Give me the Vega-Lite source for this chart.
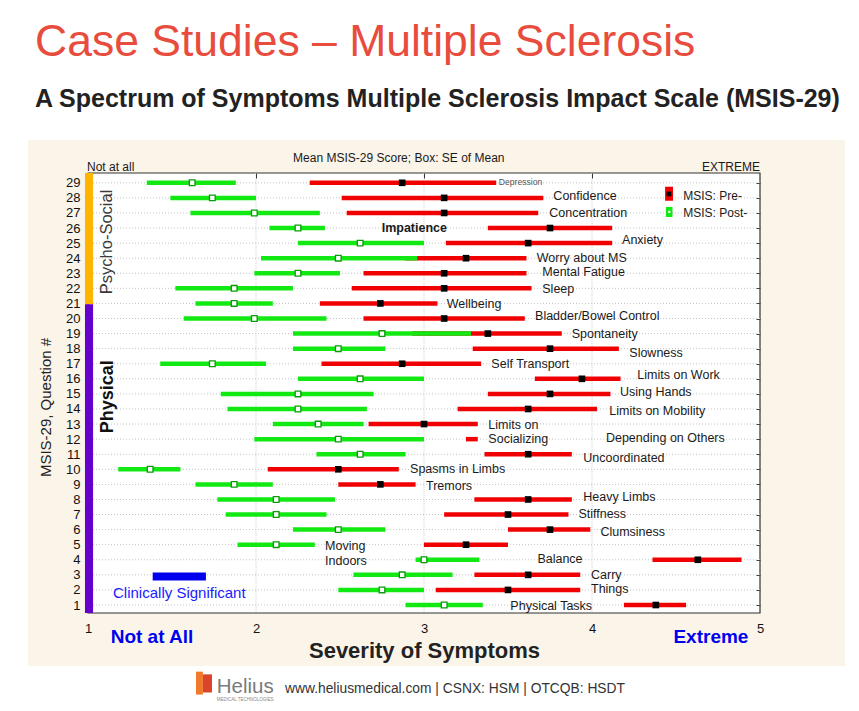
{
  "$schema": "https://vega.github.io/schema/vega-lite/v6.json",
  "width": 672,
  "height": 440,
  "autosize": {"type": "none"},
  "padding": {"left": 88, "top": 173, "right": 99, "bottom": 98},
  "background": "white",
  "config": {"font": "Liberation Sans", "view": {"stroke": null}},
  "title": {
    "text": "Case Studies – Multiple Sclerosis",
    "subtitle": "A Spectrum of Symptoms Multiple Sclerosis Impact Scale (MSIS-29)",
    "anchor": "start",
    "frame": "group",
    "dx": -53,
    "offset": 27,
    "fontSize": 44.5,
    "fontWeight": "normal",
    "color": "#E84C3D",
    "subtitleFontSize": 25,
    "subtitleFontWeight": "bold",
    "subtitleColor": "#222222",
    "subtitlePadding": 22
  },
  "resolve": {"axis": {"x": "independent", "y": "independent"}},
  "datasets": {
    "msis": [
      {"q": 29, "postLo": 1.35, "postMean": 1.62, "postHi": 1.88, "preLo": 2.32, "preMean": 2.87, "preHi": 3.43},
      {"q": 28, "postLo": 1.49, "postMean": 1.74, "postHi": 2.00, "preLo": 2.51, "preMean": 3.12, "preHi": 3.71},
      {"q": 27, "postLo": 1.61, "postMean": 1.99, "postHi": 2.38, "preLo": 2.54, "preMean": 3.12, "preHi": 3.68},
      {"q": 26, "postLo": 2.08, "postMean": 2.25, "postHi": 2.41, "preLo": 3.38, "preMean": 3.75, "preHi": 4.12},
      {"q": 25, "postLo": 2.25, "postMean": 2.62, "postHi": 3.00, "preLo": 3.13, "preMean": 3.62, "preHi": 4.12},
      {"q": 24, "postLo": 2.03, "postMean": 2.49, "postHi": 2.96, "preLo": 2.89, "preMean": 3.25, "preHi": 3.61},
      {"q": 23, "postLo": 1.99, "postMean": 2.25, "postHi": 2.50, "preLo": 2.64, "preMean": 3.12, "preHi": 3.61},
      {"q": 22, "postLo": 1.52, "postMean": 1.87, "postHi": 2.22, "preLo": 2.57, "preMean": 3.12, "preHi": 3.64},
      {"q": 21, "postLo": 1.64, "postMean": 1.87, "postHi": 2.10, "preLo": 2.38, "preMean": 2.74, "preHi": 3.08},
      {"q": 20, "postLo": 1.57, "postMean": 1.99, "postHi": 2.42, "preLo": 2.64, "preMean": 3.12, "preHi": 3.60},
      {"q": 19, "postLo": 2.22, "postMean": 2.75, "postHi": 3.28, "preLo": 2.93, "preMean": 3.38, "preHi": 3.82},
      {"q": 18, "postLo": 2.22, "postMean": 2.49, "postHi": 2.77, "preLo": 3.29, "preMean": 3.75, "preHi": 4.16},
      {"q": 17, "postLo": 1.43, "postMean": 1.74, "postHi": 2.06, "preLo": 2.39, "preMean": 2.87, "preHi": 3.34},
      {"q": 16, "postLo": 2.25, "postMean": 2.62, "postHi": 3.00, "preLo": 3.66, "preMean": 3.94, "preHi": 4.17},
      {"q": 15, "postLo": 1.79, "postMean": 2.25, "postHi": 2.70, "preLo": 3.38, "preMean": 3.75, "preHi": 4.11},
      {"q": 14, "postLo": 1.83, "postMean": 2.25, "postHi": 2.66, "preLo": 3.20, "preMean": 3.62, "preHi": 4.03},
      {"q": 13, "postLo": 2.10, "postMean": 2.37, "postHi": 2.64, "preLo": 2.67, "preMean": 3.00, "preHi": 3.32},
      {"q": 12, "postLo": 1.99, "postMean": 2.49, "postHi": 3.00, "preLo": 3.25, "preMean": null, "preHi": 3.32},
      {"q": 11, "postLo": 2.36, "postMean": 2.62, "postHi": 2.89, "preLo": 3.36, "preMean": 3.62, "preHi": 3.88},
      {"q": 10, "postLo": 1.18, "postMean": 1.37, "postHi": 1.55, "preLo": 2.07, "preMean": 2.49, "preHi": 2.85},
      {"q": 9, "postLo": 1.64, "postMean": 1.87, "postHi": 2.10, "preLo": 2.49, "preMean": 2.74, "preHi": 2.95},
      {"q": 8, "postLo": 1.77, "postMean": 2.12, "postHi": 2.47, "preLo": 3.30, "preMean": 3.62, "preHi": 3.88},
      {"q": 7, "postLo": 1.82, "postMean": 2.12, "postHi": 2.42, "preLo": 3.12, "preMean": 3.50, "preHi": 3.86},
      {"q": 6, "postLo": 2.22, "postMean": 2.49, "postHi": 2.77, "preLo": 3.50, "preMean": 3.75, "preHi": 3.99},
      {"q": 5, "postLo": 1.89, "postMean": 2.12, "postHi": 2.35, "preLo": 3.00, "preMean": 3.25, "preHi": 3.50},
      {"q": 4, "postLo": 2.95, "postMean": 3.00, "postHi": 3.33, "preLo": 4.36, "preMean": 4.63, "preHi": 4.89},
      {"q": 3, "postLo": 2.58, "postMean": 2.87, "postHi": 3.17, "preLo": 3.30, "preMean": 3.62, "preHi": 3.93},
      {"q": 2, "postLo": 2.49, "postMean": 2.75, "postHi": 3.00, "preLo": 3.07, "preMean": 3.50, "preHi": 3.93},
      {"q": 1, "postLo": 2.89, "postMean": 3.12, "postHi": 3.35, "preLo": 4.19, "preMean": 4.38, "preHi": 4.56}
    ],
    "labels": [
      {"text": "Confidence", "x": 3.770, "q": 28.13},
      {"text": "Concentration", "x": 3.746, "q": 27.0},
      {"text": "Anxiety", "x": 4.179, "q": 25.18},
      {"text": "Worry about MS", "x": 3.671, "q": 24.04},
      {"text": "Mental Fatigue", "x": 3.704, "q": 23.09},
      {"text": "Sleep", "x": 3.704, "q": 21.96},
      {"text": "Wellbeing", "x": 3.135, "q": 20.97},
      {"text": "Bladder/Bowel Control", "x": 3.661, "q": 20.17},
      {"text": "Spontaneity", "x": 3.879, "q": 18.98},
      {"text": "Slowness", "x": 4.222, "q": 17.69},
      {"text": "Self Transport", "x": 3.401, "q": 16.99},
      {"text": "Limits on Work", "x": 4.270, "q": 16.23},
      {"text": "Using Hands", "x": 4.167, "q": 15.12},
      {"text": "Limits on Mobility", "x": 4.103, "q": 13.88},
      {"text": "Limits on", "x": 3.383, "q": 12.92},
      {"text": "Socializing", "x": 3.383, "q": 11.99},
      {"text": "Depending on Others", "x": 4.083, "q": 12.09},
      {"text": "Uncoordinated", "x": 3.948, "q": 10.76},
      {"text": "Spasms in Limbs", "x": 2.917, "q": 10.03},
      {"text": "Tremors", "x": 3.012, "q": 8.91},
      {"text": "Heavy Limbs", "x": 3.948, "q": 8.15},
      {"text": "Stiffness", "x": 3.919, "q": 7.02},
      {"text": "Clumsiness", "x": 4.05, "q": 5.86},
      {"text": "Moving", "x": 2.411, "q": 4.9},
      {"text": "Indoors", "x": 2.411, "q": 3.94},
      {"text": "Balance", "x": 3.675, "q": 4.04},
      {"text": "Carry", "x": 3.994, "q": 3.01},
      {"text": "Things", "x": 3.994, "q": 2.05},
      {"text": "Physical Tasks", "x": 3.514, "q": 0.96}
    ]
  },
  "layer": [
    {
      "data": {"values": [{"x": 0.643, "x2": 5.506, "q": -3.05, "q2": 31.83}]},
      "mark": {"type": "rect", "fill": "#FBF4E9", "clip": false},
      "encoding": {
        "x": {"field": "x", "type": "quantitative", "scale": {"domain": [1, 5], "nice": false, "zero": false}, "axis": null},
        "x2": {"field": "x2"},
        "y": {"field": "q", "type": "quantitative", "scale": {"domain": [0.47, 29.65], "nice": false, "zero": false}, "axis": null},
        "y2": {"field": "q2"}
      }
    },
    {
      "data": {"values": [{"x": 1, "x2": 5, "q": 0.47, "q2": 29.65}]},
      "mark": {"type": "rect", "fill": "white", "stroke": "#333333", "strokeWidth": 1.2, "clip": false},
      "encoding": {
        "x": {"field": "x", "type": "quantitative", "scale": {"domain": [1, 5], "nice": false, "zero": false},
          "axis": {"orient": "bottom", "values": [1, 2, 3, 4, 5], "ticks": false, "tickSize": 0, "domain": false, "grid": false,
            "labelFontSize": 13, "labelColor": "#111111", "labelPadding": 9, "labelFlush": false,
            "title": "Severity of Symptoms", "titleFontSize": 22, "titleFontWeight": "bold", "titleColor": "#222222", "titlePadding": 5, "zindex": 1}},
        "x2": {"field": "x2"},
        "y": {"field": "q", "type": "quantitative", "scale": {"domain": [0.47, 29.65], "nice": false, "zero": false},
          "axis": {"orient": "left", "values": [1, 2, 3, 4, 5, 6, 7, 8, 9, 10, 11, 12, 13, 14, 15, 16, 17, 18, 19, 20, 21, 22, 23, 24, 25, 26, 27, 28, 29],
            "ticks": false, "tickSize": 0, "domain": false, "grid": false, "labelFontSize": 13, "labelColor": "#111111", "labelPadding": 8,
            "labelOverlap": false, "labelFlush": false,
            "title": "MSIS-29, Question #", "titleFontSize": 15, "titleFontWeight": "normal", "titleColor": "#222222", "titlePadding": 12, "titleY": 234, "zindex": 1}},
        "y2": {"field": "q2"}
      }
    },
    {
      "data": {"name": "msis"},
      "mark": {"type": "rule", "stroke": "#C4C4C4", "strokeWidth": 1, "strokeDash": [1, 2]},
      "encoding": {
        "y": {"field": "q", "type": "quantitative", "scale": {"domain": [0.47, 29.65], "nice": false, "zero": false},
          "axis": {"orient": "right", "values": [1, 2, 3, 4, 5, 6, 7, 8, 9, 10, 11, 12, 13, 14, 15, 16, 17, 18, 19, 20, 21, 22, 23, 24, 25, 26, 27, 28, 29],
            "labels": false, "domain": false, "grid": false, "ticks": true, "tickSize": -4, "tickColor": "#444444", "title": null, "zindex": 1}}
      }
    },
    {
      "data": {"values": [{"v": 2}, {"v": 3}, {"v": 4}]},
      "mark": {"type": "rule", "stroke": "#D0D0D0", "strokeWidth": 1, "strokeDash": [1, 1]},
      "encoding": {
        "x": {"field": "v", "type": "quantitative", "scale": {"domain": [1, 5], "nice": false, "zero": false},
          "axis": {"orient": "top", "values": [2, 3, 4], "labels": false, "domain": false, "grid": false, "ticks": true, "tickSize": -5, "tickColor": "#333333", "title": null, "zindex": 1}}
      }
    },
    {
      "data": {"values": [{"grp": "Psycho-Social", "x": 0.982, "x2": 1.03, "lo": 20.95, "hi": 29.65}]},
      "mark": {"type": "rect", "fill": "#FFB400", "clip": false},
      "encoding": {
        "x": {"field": "x", "type": "quantitative", "scale": {"domain": [1, 5], "nice": false, "zero": false}, "axis": null},
        "x2": {"field": "x2"},
        "y": {"field": "lo", "type": "quantitative", "scale": {"domain": [0.47, 29.65], "nice": false, "zero": false}, "axis": null},
        "y2": {"field": "hi"}
      }
    },
    {
      "data": {"values": [{"grp": "Physical", "x": 0.982, "x2": 1.03, "lo": 0.47, "hi": 20.95}]},
      "mark": {"type": "rect", "fill": "#6600CC", "clip": false},
      "encoding": {
        "x": {"field": "x", "type": "quantitative", "scale": {"domain": [1, 5], "nice": false, "zero": false}, "axis": null},
        "x2": {"field": "x2"},
        "y": {"field": "lo", "type": "quantitative", "scale": {"domain": [0.47, 29.65], "nice": false, "zero": false}, "axis": null},
        "y2": {"field": "hi"}
      }
    },
    {
      "data": {"name": "msis"},
      "mark": {"type": "rule", "stroke": "#F00000", "strokeWidth": 4.5},
      "encoding": {
        "x": {"field": "preLo", "type": "quantitative", "scale": {"domain": [1, 5], "nice": false, "zero": false}, "axis": null},
        "x2": {"field": "preHi"},
        "y": {"field": "q", "type": "quantitative", "scale": {"domain": [0.47, 29.65], "nice": false, "zero": false}, "axis": null}
      }
    },
    {
      "data": {"name": "msis"},
      "mark": {"type": "rule", "stroke": "#12E812", "strokeWidth": 4.5},
      "encoding": {
        "x": {"field": "postLo", "type": "quantitative", "scale": {"domain": [1, 5], "nice": false, "zero": false}, "axis": null},
        "x2": {"field": "postHi"},
        "y": {"field": "q", "type": "quantitative", "scale": {"domain": [0.47, 29.65], "nice": false, "zero": false}, "axis": null}
      }
    },
    {
      "data": {"name": "msis"},
      "mark": {"type": "square", "filled": true, "fill": "black", "size": 44, "opacity": 1},
      "encoding": {
        "x": {"field": "preMean", "type": "quantitative", "scale": {"domain": [1, 5], "nice": false, "zero": false}, "axis": null},
        "y": {"field": "q", "type": "quantitative", "scale": {"domain": [0.47, 29.65], "nice": false, "zero": false}, "axis": null}
      }
    },
    {
      "data": {"name": "msis"},
      "mark": {"type": "square", "filled": true, "fill": "white", "stroke": "#0A9A0A", "strokeWidth": 1.3, "size": 32, "opacity": 1},
      "encoding": {
        "x": {"field": "postMean", "type": "quantitative", "scale": {"domain": [1, 5], "nice": false, "zero": false}, "axis": null},
        "y": {"field": "q", "type": "quantitative", "scale": {"domain": [0.47, 29.65], "nice": false, "zero": false}, "axis": null}
      }
    },
    {
      "data": {"name": "labels"},
      "mark": {"type": "text", "align": "left", "baseline": "middle", "fontSize": 12.5, "color": "#1A1A1A", "clip": false},
      "encoding": {
        "x": {"field": "x", "type": "quantitative", "scale": {"domain": [1, 5], "nice": false, "zero": false}, "axis": null},
        "y": {"field": "q", "type": "quantitative", "scale": {"domain": [0.47, 29.65], "nice": false, "zero": false}, "axis": null},
        "text": {"field": "text"}
      }
    },
    {
      "data": {"values": [{"text": "Impatience", "x": 2.748, "q": 26.01}]},
      "mark": {"type": "text", "align": "left", "baseline": "middle", "fontSize": 12.5, "fontWeight": "bold", "color": "#1A1A1A"},
      "encoding": {
        "x": {"field": "x", "type": "quantitative", "scale": {"domain": [1, 5], "nice": false, "zero": false}, "axis": null},
        "y": {"field": "q", "type": "quantitative", "scale": {"domain": [0.47, 29.65], "nice": false, "zero": false}, "axis": null},
        "text": {"field": "text"}
      }
    },
    {
      "data": {"values": [{"text": "Depression", "x": 3.445, "q": 29.05}]},
      "mark": {"type": "text", "align": "left", "baseline": "middle", "fontSize": 8.6, "color": "#555555"},
      "encoding": {
        "x": {"field": "x", "type": "quantitative", "scale": {"domain": [1, 5], "nice": false, "zero": false}, "axis": null},
        "y": {"field": "q", "type": "quantitative", "scale": {"domain": [0.47, 29.65], "nice": false, "zero": false}, "axis": null},
        "text": {"field": "text"}
      }
    },
    {
      "data": {"values": [{"s": "MSIS: Pre-", "x": 4.435, "x2": 4.482, "lo": 27.81, "hi": 28.74}]},
      "mark": {"type": "rect", "fill": "#F00000"},
      "encoding": {
        "x": {"field": "x", "type": "quantitative", "scale": {"domain": [1, 5], "nice": false, "zero": false}, "axis": null},
        "x2": {"field": "x2"},
        "y": {"field": "lo", "type": "quantitative", "scale": {"domain": [0.47, 29.65], "nice": false, "zero": false}, "axis": null},
        "y2": {"field": "hi"}
      }
    },
    {
      "data": {"values": [{"s": "MSIS: Post-", "x": 4.44, "x2": 4.479, "lo": 26.73, "hi": 27.40}]},
      "mark": {"type": "rect", "fill": "#12E812"},
      "encoding": {
        "x": {"field": "x", "type": "quantitative", "scale": {"domain": [1, 5], "nice": false, "zero": false}, "axis": null},
        "x2": {"field": "x2"},
        "y": {"field": "lo", "type": "quantitative", "scale": {"domain": [0.47, 29.65], "nice": false, "zero": false}, "axis": null},
        "y2": {"field": "hi"}
      }
    },
    {
      "data": {"values": [{"s": "MSIS: Pre-", "x": 4.458, "q": 28.26}]},
      "mark": {"type": "square", "filled": true, "fill": "black", "size": 22, "opacity": 1},
      "encoding": {
        "x": {"field": "x", "type": "quantitative", "scale": {"domain": [1, 5], "nice": false, "zero": false}, "axis": null},
        "y": {"field": "q", "type": "quantitative", "scale": {"domain": [0.47, 29.65], "nice": false, "zero": false}, "axis": null}
      }
    },
    {
      "data": {"values": [{"s": "MSIS: Post-", "x": 4.46, "q": 27.07}]},
      "mark": {"type": "square", "filled": true, "fill": "white", "size": 5, "opacity": 1},
      "encoding": {
        "x": {"field": "x", "type": "quantitative", "scale": {"domain": [1, 5], "nice": false, "zero": false}, "axis": null},
        "y": {"field": "q", "type": "quantitative", "scale": {"domain": [0.47, 29.65], "nice": false, "zero": false}, "axis": null}
      }
    },
    {
      "data": {"values": [
        {"s": "MSIS: Pre-", "tx": 4.543, "tq": 28.13},
        {"s": "MSIS: Post-", "tx": 4.543, "tq": 27.03}
      ]},
      "mark": {"type": "text", "align": "left", "baseline": "middle", "fontSize": 12, "color": "#1A1A1A"},
      "encoding": {
        "x": {"field": "tx", "type": "quantitative", "scale": {"domain": [1, 5], "nice": false, "zero": false}, "axis": null},
        "y": {"field": "tq", "type": "quantitative", "scale": {"domain": [0.47, 29.65], "nice": false, "zero": false}, "axis": null},
        "text": {"field": "s"}
      }
    },
    {
      "data": {"values": [{"x": 1.385, "x2": 1.702, "lo": 2.63, "hi": 3.16}]},
      "mark": {"type": "rect", "fill": "#0000EE"},
      "encoding": {
        "x": {"field": "x", "type": "quantitative", "scale": {"domain": [1, 5], "nice": false, "zero": false}, "axis": null},
        "x2": {"field": "x2"},
        "y": {"field": "lo", "type": "quantitative", "scale": {"domain": [0.47, 29.65], "nice": false, "zero": false}, "axis": null},
        "y2": {"field": "hi"}
      }
    },
    {
      "data": {"values": [{"text": "Clinically Significant", "tx": 1.149, "tq": 1.82}]},
      "mark": {"type": "text", "align": "left", "baseline": "middle", "fontSize": 15, "color": "#1A1AFF"},
      "encoding": {
        "x": {"field": "tx", "type": "quantitative", "scale": {"domain": [1, 5], "nice": false, "zero": false}, "axis": null},
        "y": {"field": "tq", "type": "quantitative", "scale": {"domain": [0.47, 29.65], "nice": false, "zero": false}, "axis": null},
        "text": {"field": "text"}
      }
    },
    {
      "data": {"values": [{"text": "Psycho-Social", "x": 1.113, "q": 25.08}]},
      "mark": {"type": "text", "angle": 270, "align": "center", "baseline": "middle", "fontSize": 16.5, "color": "#3A3A3A"},
      "encoding": {
        "x": {"field": "x", "type": "quantitative", "scale": {"domain": [1, 5], "nice": false, "zero": false}, "axis": null},
        "y": {"field": "q", "type": "quantitative", "scale": {"domain": [0.47, 29.65], "nice": false, "zero": false}, "axis": null},
        "text": {"field": "text"}
      }
    },
    {
      "data": {"values": [{"text": "Physical", "x": 1.119, "q": 14.81}]},
      "mark": {"type": "text", "angle": 270, "align": "center", "baseline": "middle", "fontSize": 18, "fontWeight": "bold", "color": "#111111"},
      "encoding": {
        "x": {"field": "x", "type": "quantitative", "scale": {"domain": [1, 5], "nice": false, "zero": false}, "axis": null},
        "y": {"field": "q", "type": "quantitative", "scale": {"domain": [0.47, 29.65], "nice": false, "zero": false}, "axis": null},
        "text": {"field": "text"}
      }
    },
    {
      "data": {"values": [{"text": "Not at all", "x": 0.994, "q": 29.75}]},
      "mark": {"type": "text", "align": "left", "baseline": "alphabetic", "fontSize": 12, "color": "#1A1A1A", "clip": false},
      "encoding": {
        "x": {"field": "x", "type": "quantitative", "scale": {"domain": [1, 5], "nice": false, "zero": false}, "axis": null},
        "y": {"field": "q", "type": "quantitative", "scale": {"domain": [0.47, 29.65], "nice": false, "zero": false}, "axis": null},
        "text": {"field": "text"}
      }
    },
    {
      "data": {"values": [{"text": "EXTREME", "x": 5.0, "q": 29.75}]},
      "mark": {"type": "text", "align": "right", "baseline": "alphabetic", "fontSize": 12, "color": "#1A1A1A", "clip": false},
      "encoding": {
        "x": {"field": "x", "type": "quantitative", "scale": {"domain": [1, 5], "nice": false, "zero": false}, "axis": null},
        "y": {"field": "q", "type": "quantitative", "scale": {"domain": [0.47, 29.65], "nice": false, "zero": false}, "axis": null},
        "text": {"field": "text"}
      }
    },
    {
      "data": {"values": [{"text": "Mean MSIS-29 Score; Box: SE of Mean", "x": 2.85, "q": 30.38}]},
      "mark": {"type": "text", "align": "center", "baseline": "alphabetic", "fontSize": 12, "color": "#1A1A1A", "clip": false},
      "encoding": {
        "x": {"field": "x", "type": "quantitative", "scale": {"domain": [1, 5], "nice": false, "zero": false}, "axis": null},
        "y": {"field": "q", "type": "quantitative", "scale": {"domain": [0.47, 29.65], "nice": false, "zero": false}, "axis": null},
        "text": {"field": "text"}
      }
    },
    {
      "data": {"values": [
        {"text": "Not at All", "x": 1.381, "q": -1.10},
        {"text": "Extreme", "x": 4.708, "q": -1.10}
      ]},
      "mark": {"type": "text", "align": "center", "baseline": "middle", "fontSize": 19, "fontWeight": "bold", "color": "#0000EE", "clip": false},
      "encoding": {
        "x": {"field": "x", "type": "quantitative", "scale": {"domain": [1, 5], "nice": false, "zero": false}, "axis": null},
        "y": {"field": "q", "type": "quantitative", "scale": {"domain": [0.47, 29.65], "nice": false, "zero": false}, "axis": null},
        "text": {"field": "text"}
      }
    },
    {
      "data": {"values": [{"x": 1.643, "x2": 1.684, "lo": -4.94, "hi": -3.42}]},
      "mark": {"type": "rect", "fill": "#F07A2A", "clip": false},
      "encoding": {
        "x": {"field": "x", "type": "quantitative", "scale": {"domain": [1, 5], "nice": false, "zero": false}, "axis": null},
        "x2": {"field": "x2"},
        "y": {"field": "lo", "type": "quantitative", "scale": {"domain": [0.47, 29.65], "nice": false, "zero": false}, "axis": null},
        "y2": {"field": "hi"}
      }
    },
    {
      "data": {"values": [{"x": 1.684, "x2": 1.738, "lo": -4.80, "hi": -3.60}]},
      "mark": {"type": "rect", "fill": "#D9442B", "clip": false},
      "encoding": {
        "x": {"field": "x", "type": "quantitative", "scale": {"domain": [1, 5], "nice": false, "zero": false}, "axis": null},
        "x2": {"field": "x2"},
        "y": {"field": "lo", "type": "quantitative", "scale": {"domain": [0.47, 29.65], "nice": false, "zero": false}, "axis": null},
        "y2": {"field": "hi"}
      }
    },
    {
      "data": {"values": [{"text": "Helius", "x": 1.766, "q": -4.82}]},
      "mark": {"type": "text", "align": "left", "baseline": "alphabetic", "fontSize": 20.5, "color": "#7B7B7B", "clip": false},
      "encoding": {
        "x": {"field": "x", "type": "quantitative", "scale": {"domain": [1, 5], "nice": false, "zero": false}, "axis": null},
        "y": {"field": "q", "type": "quantitative", "scale": {"domain": [0.47, 29.65], "nice": false, "zero": false}, "axis": null},
        "text": {"field": "text"}
      }
    },
    {
      "data": {"values": [{"text": "MEDICAL TECHNOLOGIES", "x": 1.766, "q": -5.36}]},
      "mark": {"type": "text", "align": "left", "baseline": "alphabetic", "fontSize": 4.5, "color": "#888888", "clip": false},
      "encoding": {
        "x": {"field": "x", "type": "quantitative", "scale": {"domain": [1, 5], "nice": false, "zero": false}, "axis": null},
        "y": {"field": "q", "type": "quantitative", "scale": {"domain": [0.47, 29.65], "nice": false, "zero": false}, "axis": null},
        "text": {"field": "text"}
      }
    },
    {
      "data": {"values": [{"text": "www.heliusmedical.com |  CSNX: HSM | OTCQB: HSDT", "x": 2.173, "q": -4.55}]},
      "mark": {"type": "text", "align": "left", "baseline": "middle", "fontSize": 13.8, "color": "#333333", "clip": false},
      "encoding": {
        "x": {"field": "x", "type": "quantitative", "scale": {"domain": [1, 5], "nice": false, "zero": false}, "axis": null},
        "y": {"field": "q", "type": "quantitative", "scale": {"domain": [0.47, 29.65], "nice": false, "zero": false}, "axis": null},
        "text": {"field": "text"}
      }
    }
  ]
}
